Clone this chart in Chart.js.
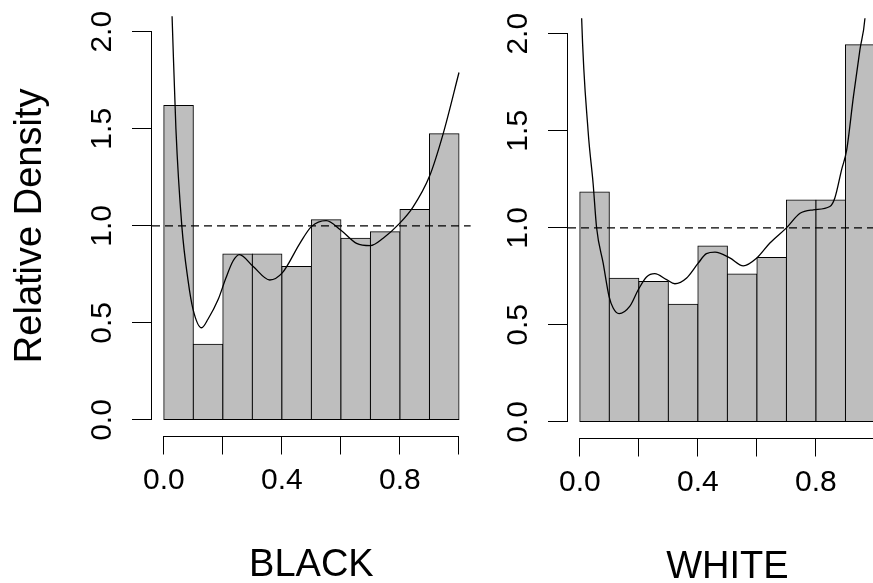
<!DOCTYPE html>
<html>
<head>
<meta charset="utf-8">
<script src="https://cdn.jsdelivr.net/npm/chart.js@4.4.1/dist/chart.umd.min.js"></script>
<style>
  html, body { margin: 0; padding: 0; background: #fff; overflow: hidden; }
  #wrap { position: relative; width: 873px; height: 583px; overflow: hidden; }
  .panel { position: absolute; top: 0; width: 480px; height: 583px; }
  #left { left: 0; }
  #right { left: 416px; top: 2px; }
</style>
</head>
<body>
<div id="wrap">
  <div class="panel" id="left"><canvas id="c-black"></canvas></div>
  <div class="panel" id="right"><canvas id="c-white"></canvas></div>
</div>
<script>
// histogram bins (relative data, 10 deciles)
const binCenters = [0.05, 0.15, 0.25, 0.35, 0.45, 0.55, 0.65, 0.75, 0.85, 0.95];
const blackHeights = [1.62, 0.39, 0.855, 0.855, 0.79, 1.032, 0.936, 0.969, 1.084, 1.475];
const whiteHeights = [1.185, 0.741, 0.724, 0.607, 0.907, 0.762, 0.847, 1.144, 1.144, 1.943];

// smoothed relative density curves
const blackCurveX = [0.0, 0.028, 0.041, 0.061, 0.082, 0.099, 0.128, 0.15, 0.184, 0.21, 0.235, 0.256, 0.303, 0.359, 0.402, 0.461, 0.50, 0.55, 0.599, 0.653, 0.70, 0.743, 0.797, 0.843, 0.90, 0.947, 1.0];
const blackCurveY = [3.3, 2.08, 1.5, 1.0, 0.72, 0.57, 0.475, 0.52, 0.62, 0.73, 0.82, 0.852, 0.79, 0.721, 0.759, 0.91, 0.996, 1.027, 0.979, 0.91, 0.898, 0.936, 1.01, 1.094, 1.255, 1.478, 1.79];
const whiteCurveX = [0.0, 0.006, 0.028, 0.045, 0.057, 0.079, 0.099, 0.113, 0.133, 0.169, 0.198, 0.226, 0.254, 0.294, 0.322, 0.362, 0.401, 0.429, 0.458, 0.508, 0.554, 0.599, 0.644, 0.70, 0.746, 0.791, 0.847, 0.864, 0.887, 0.904, 0.927, 0.949, 0.966, 1.0];
const whiteCurveY = [2.5, 2.09, 1.5, 1.23, 0.999, 0.819, 0.647, 0.587, 0.558, 0.595, 0.681, 0.747, 0.764, 0.733, 0.712, 0.742, 0.818, 0.867, 0.875, 0.845, 0.804, 0.844, 0.922, 1.0, 1.075, 1.093, 1.11, 1.154, 1.30, 1.40, 1.677, 1.918, 2.08, 2.9];

const refLevel = 1;
const xTicks = [0, 0.2, 0.4, 0.6, 0.8, 1.0];
const xTickLabels = ['0.0', '', '0.4', '', '0.8', ''];
const yTicks = [0, 0.5, 1.0, 1.5, 2.0];
const yTickLabels = ['0.0', '0.5', '1.0', '1.5', '2.0'];
const xLimits = [-0.04, 1.04];
const yLimits = [-0.08, 2.08];

const FONT = "'Liberation Sans', Arial, sans-serif";

// R-style axis lines: only from first to last tick
const axisLines = {
  id: 'axisLines',
  afterDatasetsDraw(chart) {
    const { ctx, chartArea, scales: { x, y } } = chart;
    ctx.save();
    ctx.strokeStyle = '#000';
    ctx.lineWidth = 1;
    ctx.beginPath();
    const by = Math.round(chartArea.bottom) + 0.5;
    ctx.moveTo(x.getPixelForValue(xTicks[0]), by);
    ctx.lineTo(x.getPixelForValue(xTicks[xTicks.length - 1]), by);
    const lx = Math.round(chartArea.left) - 0.5;
    ctx.moveTo(lx, y.getPixelForValue(yTicks[0]));
    ctx.lineTo(lx, y.getPixelForValue(yTicks[yTicks.length - 1]));
    ctx.stroke();
    ctx.restore();
  }
};

function noPadding(s) {
  s.paddingTop = 0;
  s.paddingBottom = 0;
  s.paddingLeft = 0;
  s.paddingRight = 0;
}

function makePanel(canvasId, heights, curveX, curveY, xTitle, yTitle) {
  return new Chart(document.getElementById(canvasId), {
    type: 'bar',
    data: {
      datasets: [
        {
          type: 'line',
          data: curveX.map((x, i) => ({ x, y: curveY[i] })),
          borderColor: '#000',
          borderWidth: 1.3,
          pointRadius: 0,
          cubicInterpolationMode: 'monotone',
          fill: false,
          order: 0,
        },
        {
          type: 'line',
          data: xLimits.map(x => ({ x, y: refLevel })),
          borderColor: '#000',
          borderWidth: 1.3,
          borderDash: [8, 5],
          pointRadius: 0,
          fill: false,
          order: 1,
        },
        {
          type: 'bar',
          data: binCenters.map((x, i) => ({ x, y: heights[i] })),
          backgroundColor: '#bebebe',
          borderColor: '#000',
          borderWidth: 1,
          borderSkipped: false,
          // border straddles the bin edge, so neighbours share one line
          inflateAmount: 0.5,
          barPercentage: 1,
          categoryPercentage: 1,
          order: 2,
        },
      ],
    },
    options: {
      responsive: true,
      maintainAspectRatio: false,
      animation: false,
      events: [],
      layout: { padding: { top: 16.2, right: 9.2, bottom: 0, left: 0 } },
      plugins: { legend: { display: false }, tooltip: { enabled: false } },
      scales: {
        x: {
          type: 'linear',
          min: xLimits[0],
          max: xLimits[1],
          offset: false,
          afterBuildTicks: s => { s.ticks = xTicks.map(v => ({ value: v })); },
          afterFit: s => { s.height = 147.5; noPadding(s); },
          border: { display: false },
          grid: { offset: false, drawOnChartArea: false, drawTicks: true, tickLength: 19, color: '#000', lineWidth: 1 },
          ticks: {
            autoSkip: false, minRotation: 0, maxRotation: 0, padding: 8, color: '#000',
            font: { family: FONT, size: 30 },
            callback: (v, i) => xTickLabels[i],
          },
          title: {
            display: true, text: xTitle, color: '#000',
            font: { family: FONT, size: 38, lineHeight: 0.8 },
            padding: { top: 0, bottom: 2 },
          },
        },
        y: {
          type: 'linear',
          min: yLimits[0],
          max: yLimits[1],
          afterBuildTicks: s => { s.ticks = yTicks.map(v => ({ value: v })); },
          afterFit: s => { s.width = 152; noPadding(s); },
          border: { display: false },
          grid: { drawOnChartArea: false, drawTicks: true, tickLength: 20, color: '#000', lineWidth: 1 },
          ticks: {
            autoSkip: false, minRotation: 90, maxRotation: 90, crossAlign: 'center', padding: 8.5, color: '#000',
            font: { family: FONT, size: 30 },
            callback: (v, i) => yTickLabels[i],
          },
          title: {
            display: !!yTitle, text: yTitle || '', color: '#000',
            font: { family: FONT, size: 38, lineHeight: 0.8 },
            padding: { top: 15, bottom: 0 },
          },
        },
      },
    },
    plugins: [axisLines],
  });
}

makePanel('c-black', blackHeights, blackCurveX, blackCurveY, 'BLACK', 'Relative Density');
makePanel('c-white', whiteHeights, whiteCurveX, whiteCurveY, 'WHITE', null);
</script>
</body>
</html>
